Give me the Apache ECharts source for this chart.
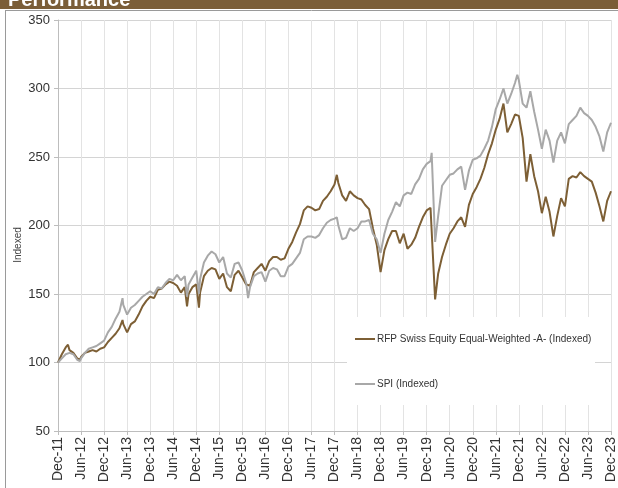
<!DOCTYPE html>
<html>
<head>
<meta charset="utf-8">
<script src="https://cdn.jsdelivr.net/npm/echarts@6/dist/echarts.min.js"></script>
<style>
  html, body { margin: 0; padding: 0; background: #fff; }
  #main { width: 618px; height: 488px; }
</style>
</head>
<body>
<div id="main"></div>
<script>
// x = months since Dec-11
var tickLabels = ['Dec-11','Jun-12','Dec-12','Jun-13','Dec-13','Jun-14','Dec-14','Jun-15','Dec-15','Jun-16','Dec-16','Jun-17',
  'Dec-17','Jun-18','Dec-18','Jun-19','Dec-19','Jun-20','Dec-20','Jun-21','Dec-21','Jun-22','Dec-22','Jun-23','Dec-23'];

var seriesNames = ['RFP Swiss Equity Equal-Weighted -A- (Indexed)', 'SPI (Indexed)'];

var rfp = [
  [0,100],[1,106],[2,111],[2.6,113],[3,109],[4,107],[5,103],[5.7,102],[6,104],[7,107],[8,108],[9,109],[10,108],[11,110],
  [12,111],[13,115],[14,118],[15,121],[16,125],[16.8,131],[17,128],[18,122],[19,128],[20,130],[21,135],[22,141],[23,145],
  [24,148],[25,147],[26,153],[27,154],[28,157],[29,159],[30,158],[31,156],[32,151],[33,155],[33.6,141],[34,150],[35,155],
  [36,157],[36.7,140],[37,151],[38,163],[39,167],[40,169],[41,168],[42,161],[43,165],[44,155],[45,152],[46,164],[47,167],
  [48,162],[49,157],[50,156],[51,166],[52,169],[53,172],[54,167],[55,174],[56,177],[57,177],[58,175],[59,176],
  [60,183],[61,188],[62,195],[63,201],[64,211],[65,214],[66,213],[67,211],[68,212],[69,218],[70,221],[71,225],
  [72,230],[72.6,237],[73,231],[74,222],[75,218],[76,225],[77,222],[78,220],[79,219],[80,215],[81,212],[82,198],[83,186],
  [84,166],[85,182],[86,190],[87,196],[88,196],[89,187],[90,194],[91,183],[92,186],[93,191],[94,199],[95,206],
  [96,211],[97,213],[97.3,214],[98.2,146],[99,165],[100,177],[101,186],[102,194],[103,198],[104,203],[105,206],[106,199],[107,215],
  [108,223],[109,228],[110,234],[111,242],[112,252],[113,260],[114,270],[115,278],[116,289],[117,268],[118,274],[119,281],
  [120,280],[121,264],[122,232],[123,252],[124,236],[125,225],[126,209],[127,221],[128,210],[129,192],[130,207],[131,220],
  [132,214],[133,234],[134,236],[135,235],[136,239],[137,236],[138,234],[139,232],[140,224],[141,214],[142,203],[143,218],
  [144,225]
];

var spi = [
  [0,100],[1,103],[2,106],[3,107],[4,106],[5,102],[5.7,101],[6,103],[7,107],[8,110],[9,111],[10,112],[11,114],
  [12,116],[13,122],[14,126],[15,132],[16,137],[16.8,147],[17,142],[18,135],[19,140],[20,142],[21,145],[22,148],[23,150],
  [24,152],[25,150],[26,155],[27,154],[28,158],[29,161],[30,160],[31,164],[32,160],[33,163],[33.6,148],[34,157],[35,162],
  [36,167],[36.7,150],[37,161],[38,173],[39,178],[40,181],[41,179],[42,173],[43,177],[44,165],[45,162],[46,172],[47,173],
  [48,167],[49,158],[49.5,147],[50,155],[51,163],[52,165],[53,166],[54,159],[55,167],[56,169],[57,168],[58,163],[59,163],
  [60,170],[61,172],[62,176],[63,180],[64,190],[65,192],[66,192],[67,191],[68,193],[69,198],[70,202],[71,204],
  [72,205],[72.6,206],[73,200],[74,190],[75,191],[76,198],[77,196],[78,198],[79,203],[80,203],[81,204],[82,194],[83,190],
  [84,180],[85,194],[86,204],[87,210],[88,217],[89,214],[90,222],[91,224],[92,223],[93,230],[94,234],[95,241],
  [96,245],[97,247],[97.3,253],[98.2,188],[99,207],[100,229],[101,233],[102,237],[103,238],[104,241],[105,243],[106,226],[107,240],
  [108,248],[109,249],[110,251],[111,256],[112,262],[113,272],[114,285],[115,292],[116,300],[117,289],[118,296],[119,304],
  [119.6,310],[120,306],[121,289],[122,286],[123,298],[124,283],[125,270],[126,256],[127,270],[128,262],[129,246],[130,262],[131,268],
  [132,260],[133,274],[134,277],[135,280],[136,286],[137,282],[138,280],[139,277],[140,272],[141,265],[142,254],[143,268],
  [144,275]
];

var font = 'Liberation Sans, Arial, sans-serif';
var chart = echarts.init(document.getElementById('main'), null, { renderer: 'canvas' });

var option = {
  animation: false,
  backgroundColor: '#fff',
  color: ['#7d5f35', '#a8a8a8'],
  grid: { left: 58, right: 1, top: 20, bottom: 57 },
  graphic: [
    { type: 'rect', shape: { x: 0, y: 0, width: 618, height: 9 }, style: { fill: '#7b5e38' }, z: 10 },
    { type: 'text', x: 8, y: 10, z: 11,
      style: { text: 'Performance', fill: '#fff', font: 'bold 20px ' + font, verticalAlign: 'bottom' } },
    { type: 'line', shape: { x1: 5, y1: 10.5, x2: 618, y2: 10.5 }, style: { stroke: '#9a9a9a', lineWidth: 1 }, z: 10 },
    { type: 'line', shape: { x1: 5.5, y1: 10, x2: 5.5, y2: 488 }, style: { stroke: '#9a9a9a', lineWidth: 1 }, z: 10 },
    { type: 'text', x: 18, y: 245, rotation: Math.PI / 2, z: 10,
      style: { text: 'Indexed', fill: '#444', font: '10px ' + font, align: 'center', verticalAlign: 'middle' } },
    { type: 'rect', shape: { x: 347, y: 317, width: 248, height: 88 }, style: { fill: '#fff' }, z: 5 }
  ],
  legend: {
    orient: 'vertical',
    left: 355,
    top: 334,
    itemGap: 35,
    itemWidth: 20,
    itemHeight: 2,
    icon: 'rect',
    padding: 0,
    z: 20,
    textStyle: { fontFamily: font, fontSize: 10, color: '#333', padding: [0, 0, 0, -3] },
    data: seriesNames
  },
  xAxis: {
    type: 'value',
    min: 0,
    max: 144,
    interval: 6,
    axisLine: { lineStyle: { color: '#bdbdbd' } },
    axisTick: { show: true, length: 4, lineStyle: { color: '#bdbdbd' } },
    splitLine: { show: true, lineStyle: { color: '#e3e3e3' } },
    axisLabel: {
      rotate: 90,
      margin: 6,
      fontFamily: font,
      fontSize: 14,
      color: '#333',
      formatter: function (v) { return tickLabels[Math.round(v / 6)]; }
    }
  },
  yAxis: {
    type: 'value',
    min: 50,
    max: 350,
    interval: 50,
    axisLine: { show: true, lineStyle: { color: '#bdbdbd' } },
    axisTick: { show: true, length: 4, lineStyle: { color: '#bdbdbd' } },
    splitLine: { show: true, lineStyle: { color: '#d4d4d4' } },
    axisLabel: { margin: 8, fontFamily: font, fontSize: 13, color: '#333' }
  },
  series: [
    { name: seriesNames[0], type: 'line', data: rfp, showSymbol: false, lineStyle: { width: 2 } },
    { name: seriesNames[1], type: 'line', data: spi, showSymbol: false, lineStyle: { width: 2 } }
  ]
};
chart.setOption(option);
</script>
</body>
</html>
